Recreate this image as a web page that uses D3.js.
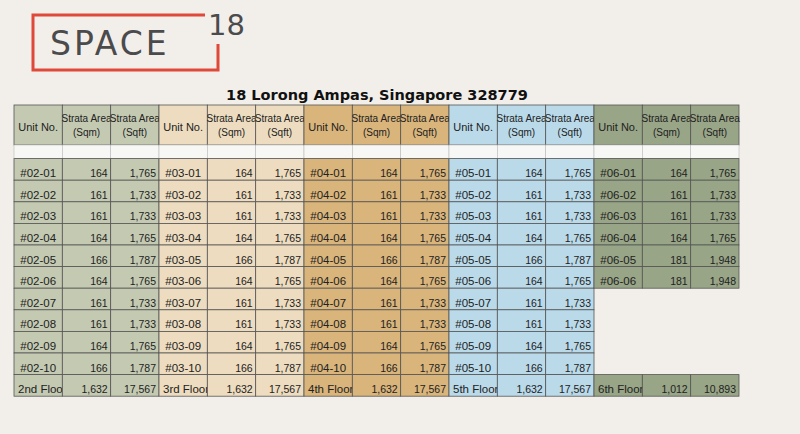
<!DOCTYPE html><html><head><meta charset="utf-8">
<script src="https://cdn.jsdelivr.net/npm/d3@7"></script>
<style>body{margin:0;background:#f2efea}</style></head><body><svg id="c" width="800" height="434"></svg>
<script>
const floors=["2nd Floor","3rd Floor","4th Floor","5th Floor","6th Floor"];
const floorCodes=["02","03","04","05","06"];
const sqm=[[164,161,161,164,166,164,161,161,164,166],[164,161,161,164,166,164,161,161,164,166],[164,161,161,164,166,164,161,161,164,166],[164,161,161,164,166,164,161,161,164,166],[164,161,161,164,181,181]];
const sqft=[[1765,1733,1733,1765,1787,1765,1733,1733,1765,1787],[1765,1733,1733,1765,1787,1765,1733,1733,1765,1787],[1765,1733,1733,1765,1787,1765,1733,1733,1765,1787],[1765,1733,1733,1765,1787,1765,1733,1733,1765,1787],[1765,1733,1733,1765,1948,1948]];
const totSqm=[1632,1632,1632,1632,1012];
const totSqft=[17567,17567,17567,17567,10893];
const colors=["#c4cab2","#eddcbf","#d9b47b","#badaea","#98a587"];
const svg=d3.select("#c");
const fmt=d3.format(",");
// logo
svg.append("path").attr("d","M205,15 H33 V70 H218 V44").attr("fill","none").attr("stroke","#e0483a").attr("stroke-width",3);
svg.append("text").attr("x",50).attr("y",55).attr("font-family","DejaVu Sans").attr("font-size",33).attr("letter-spacing",3).attr("fill","#4b4b4d").text("SPACE");
svg.append("text").attr("x",208).attr("y",35).attr("font-family","DejaVu Sans").attr("font-size",29).attr("fill","#4b4b4d").text("18");
svg.append("text").attr("x",377).attr("y",100).attr("text-anchor","middle").attr("font-family","DejaVu Sans").attr("font-weight","bold").attr("font-size",14.5).attr("fill","#111").text("18 Lorong Ampas, Singapore 328779");
const x=d3.scaleLinear().domain([0,15]).range([14,739]);
const cw=x(1)-x(0);
const rowY=d3.scaleLinear().domain([0,11]).range([158.6,158.6+11*21.6]);
const g=svg.append("g").attr("font-family","Liberation Sans Narrow, Liberation Sans").attr("fill","#222");
const stroke="#555";
floors.forEach((f,fi)=>{
  const c0=fi*3,col=colors[fi];
  // header
  ["Unit No.","Strata Area|(Sqm)","Strata Area|(Sqft)"].forEach((h,j)=>{
    g.append("rect").attr("x",x(c0+j)).attr("y",105).attr("width",cw).attr("height",40).attr("fill",col).attr("stroke",stroke).attr("stroke-width",0.8);
    const ls=h.split("|");
    ls.forEach((l,k)=>g.append("text").attr("x",x(c0+j)+cw/2).attr("y",ls.length==1?131:122+k*14).attr("text-anchor","middle").attr("font-size",ls.length==1?11:10).text(l));
    g.append("rect").attr("x",x(c0+j)).attr("y",145).attr("width",cw).attr("height",13.6).attr("fill","#f7f7f5").attr("stroke","#bbb").attr("stroke-width",0.6);
  });
  const n=sqm[fi].length;
  for(let i=0;i<n;i++){
    const vals=["#"+floorCodes[fi]+"-"+String(i+1).padStart(2,"0"),sqm[fi][i],fmt(sqft[fi][i])];
    vals.forEach((v,j)=>{
      g.append("rect").attr("x",x(c0+j)).attr("y",rowY(i)).attr("width",cw).attr("height",21.6).attr("fill",col).attr("stroke",stroke).attr("stroke-width",0.8);
      g.append("text").attr("x",j==0?x(c0)+cw/2:x(c0+j+1)-3).attr("y",rowY(i)+18.5).attr("text-anchor",j==0?"middle":"end").attr("font-size",j==0?11.5:10.5).text(v);
    });
  }
  const tv=[f,fmt(totSqm[fi]),fmt(totSqft[fi])];
  tv.forEach((v,j)=>{
    g.append("rect").attr("x",x(c0+j)).attr("y",rowY(10)).attr("width",cw).attr("height",21.6).attr("fill",col).attr("stroke",stroke).attr("stroke-width",0.8);
    g.append("text").attr("x",j==0?x(c0)+4:x(c0+j+1)-3).attr("y",rowY(10)+18.5).attr("text-anchor",j==0?"start":"end").attr("font-size",j==0?11.5:10.5).text(v);
  });
});
</script></body></html>
